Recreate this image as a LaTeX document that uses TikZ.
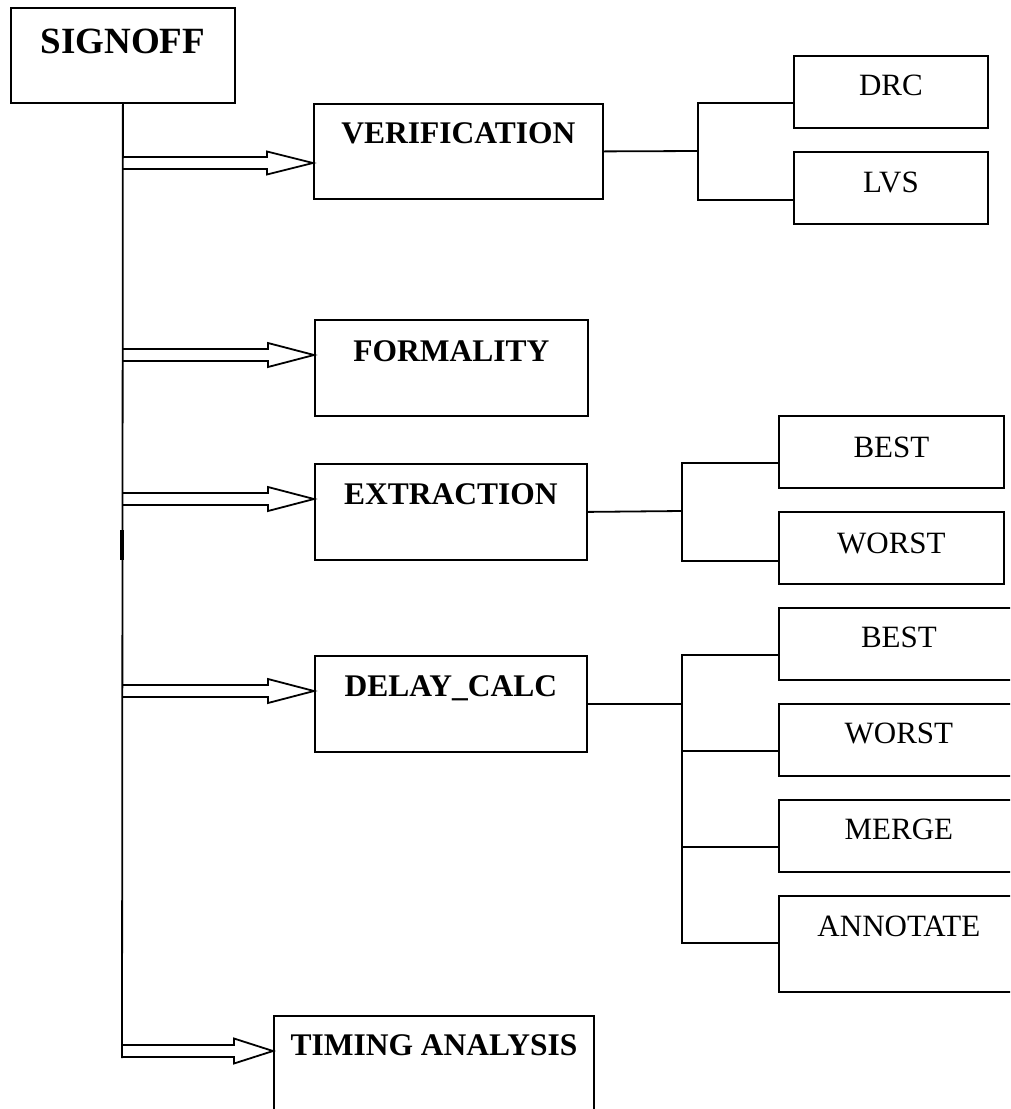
\documentclass[tikz,border=0pt]{standalone}
\usepackage{fontspec}
\setmainfont{Liberation Serif}
\usetikzlibrary{calc}

\tikzset{
  box/.style={draw, line width=1.8pt, rectangle, inner sep=0pt, anchor=north west},
  head/.style={anchor=base, inner sep=0pt, font=\fontsize{31.5}{38}\selectfont\bfseries},
  leaf/.style={anchor=base, inner sep=0pt, font=\fontsize{31}{37}\selectfont},
  wire/.style={line width=1.8pt},
  hollow/.style={line width=1.8pt, line join=miter},
}

% open-ended block arrow: #1 trunk point, #2 tip, #3 head length, #4 head half-width
\newcommand\fatarrow[4]{%
  \draw[hollow] ($(#1)+(0,-6)$) -- ($(#2)+(-#3,-6)$) -- ($(#2)+(-#3,-#4)$) -- (#2)
    -- ($(#2)+(-#3,#4)$) -- ($(#2)+(-#3,6)$) -- ($(#1)+(0,6)$);}

\begin{document}
\begin{tikzpicture}[x=1pt, y=-1pt]
\useasboundingbox (0,0) rectangle (1010,1109);
\clip (0,0) rectangle (1010,1109);

% main flow boxes
\node[box, minimum width=224pt, minimum height=95pt] (sig) at (10,7) {};
\node[box, minimum width=289pt, minimum height=95pt] (ver) at (313,103) {};
\node[box, minimum width=273pt, minimum height=96pt] (frm) at (314,319) {};
\node[box, minimum width=272pt, minimum height=96pt] (ext) at (314,463) {};
\node[box, minimum width=272pt, minimum height=96pt] (dly) at (314,655) {};
\node[box, minimum width=320pt, minimum height=115pt] (tim) at (273,1015) {};

% sub-step boxes
\node[box, minimum width=194pt, minimum height=72pt] (drc) at (793,55) {};
\node[box, minimum width=194pt, minimum height=72pt] (lvs) at (793,151) {};
\node[box, minimum width=225pt, minimum height=72pt] (bst1) at (778,415) {};
\node[box, minimum width=225pt, minimum height=72pt] (wst1) at (778,511) {};
\node[box, minimum width=240pt, minimum height=72pt] (bst2) at (778,607) {};
\node[box, minimum width=240pt, minimum height=72pt] (wst2) at (778,703) {};
\node[box, minimum width=240pt, minimum height=72pt] (mrg) at (778,799) {};
\node[box, minimum width=240pt, minimum height=96pt] (ann) at (778,895) {};

% labels
\node[head, font=\fontsize{37}{44}\selectfont\bfseries] (sigt) at ([yshift=-46pt]sig.north) {SIGNOFF};
\node[head] (vert) at ([yshift=-40pt]ver.north) {VERIFICATION};
\node[head] (frmt) at ([yshift=-42pt]frm.north) {FORMALITY};
\node[head] (extt) at ([yshift=-41pt]ext.north) {EXTRACTION};
\node[head] (dlyt) at ([yshift=-41pt]dly.north) {DELAY\_CALC};
\node[head] (timt) at ([yshift=-40pt]tim.north) {TIMING ANALYSIS};

\node[leaf] (drct) at ([yshift=-40pt]drc.north) {DRC};
\node[leaf] (lvst) at ([yshift=-41pt]lvs.north) {LVS};
\node[leaf] (bst1t) at ([yshift=-42pt]bst1.north) {BEST};
\node[leaf] (wst1t) at ([yshift=-42pt]wst1.north) {WORST};
\node[leaf] (bst2t) at ([yshift=-40pt]bst2.north) {BEST};
\node[leaf] (wst2t) at ([yshift=-40pt]wst2.north) {WORST};
\node[leaf] (mrgt) at ([yshift=-40pt]mrg.north) {MERGE};
\node[leaf] (annt) at ([yshift=-41pt]ann.north) {ANNOTATE};

% trunk from SIGNOFF
\coordinate (tend) at (122,1058);
\draw[wire] (sig.south) -- (tend);
\draw[line width=3.2pt] (122,530) -- (122,560);

% block arrows off the trunk
\coordinate (t1) at (122,163); \coordinate (h1) at (t1 -| ver.west);
\coordinate (t2) at (122,355); \coordinate (h2) at (t2 -| frm.west);
\coordinate (t3) at (122,499); \coordinate (h3) at (t3 -| ext.west);
\coordinate (t4) at (122,691); \coordinate (h4) at (t4 -| dly.west);
\coordinate (t5) at (122,1051); \coordinate (h5) at (t5 -| tim.west);
\fatarrow{t1}{h1}{46}{11.5}
\fatarrow{t2}{h2}{46}{12}
\fatarrow{t3}{h3}{46}{12}
\fatarrow{t4}{h4}{46}{12}
\fatarrow{t5}{h5}{39}{12.5}

% VERIFICATION branches
\coordinate (v1) at (698,151);
\draw[wire] (ver.east) -- (v1);
\draw[wire] (lvs.west |- ver.south) -| (v1) |- (drc.west |- ver.north);

% EXTRACTION branches
\coordinate (e1) at (682,511);
\draw[wire] (ext.east) -- (e1);
\draw[wire] (wst1.west |- ext.south) -| (e1) |- (bst1.west |- ext.north);

% DELAY_CALC branches
\coordinate (d0) at (682,655);
\coordinate (d1) at (682,751);
\coordinate (d2) at (682,847);
\coordinate (d3) at (682,943);
\draw[wire] (dly.east) -- (dly.east -| d0);
\draw[wire] (bst2.west |- d0) -- (d0) -- (d3) -- (ann.west |- d3);
\draw[wire] (d1) -- (wst2.west |- d1);
\draw[wire] (d2) -- (mrg.west |- d2);
\end{tikzpicture}
\end{document}
